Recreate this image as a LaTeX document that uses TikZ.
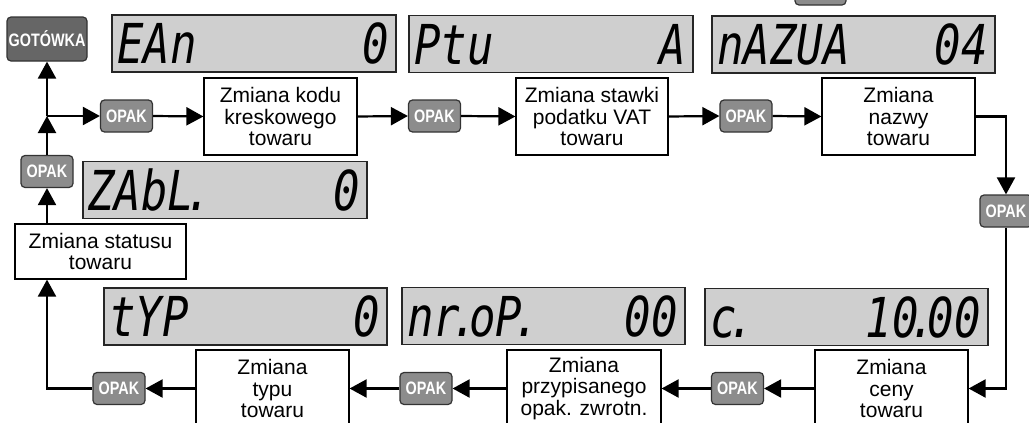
\documentclass[tikz,border=0pt]{standalone}
\usepackage{fontspec}
\setmainfont{Liberation Sans}
\newfontfamily\keyfont{Liberation Sans}[FakeStretch=0.8]
\newfontfamily\lcdfont{DejaVu Sans Mono}[FakeStretch=0.8]
\usetikzlibrary{arrows.meta}
\definecolor{keygray}{HTML}{8C8C8C}
\definecolor{cashgray}{HTML}{666666}
\definecolor{lcdgray}{HTML}{CFCFCF}
\newcommand\ldot{\makebox[9pt][c]{.}}
\newcommand\lone{\makebox[14pt][r]{1}}
\begin{document}
\begin{tikzpicture}[x=1pt,y=-1pt,
  key/.style={rounded corners=4pt, draw=black!80, line width=1.2pt, fill=keygray,
    text=white, font=\keyfont\bfseries\fontsize{18}{18}\selectfont,
    minimum width=52pt, minimum height=32pt, inner sep=0pt},
  cash/.style={key, fill=cashgray, minimum width=80pt, minimum height=44pt},
  stepbox/.style={draw, line width=1.2pt, fill=white, align=center,
    font=\fontsize{21}{21.5}\selectfont, inner sep=0pt, minimum height=77pt, minimum width=153pt},
  lcd/.style={draw=black!85, line width=1.5pt, fill=lcdgray, inner sep=0pt,
    minimum width=284pt, minimum height=57pt},
  lcdtxt/.style={font=\lcdfont\itshape\fontsize{55}{55}\selectfont, inner sep=0pt},
  flow/.style={line width=2.2pt, -{Triangle[length=17pt,width=18pt]}}
]
\useasboundingbox (0,0) rectangle (1029,423);

% top fragment key
\node[key, minimum width=51pt] (topkey) at (820.5,-11) {};

% LCD displays
\node[lcd] (l1) at (254,43.5) {};
\node[lcd] (l2) at (551,44) {};
\node[lcd, minimum width=283pt] (l3) at (853.5,44.5) {};
\node[lcd] (l4) at (225,190) {};
\node[lcd, minimum width=283pt] (l5) at (245.5,316.5) {};
\node[lcd, minimum width=283pt] (l6) at (543.5,316) {};
\node[lcd, minimum width=283pt] (l7) at (846.5,317) {};

\node[lcdtxt, anchor=base west] (t1a) at ([shift={(6,-9)}]l1.south west) {EAn};
\node[lcdtxt, anchor=base east] (t1b) at ([shift={(-8,-9)}]l1.south east) {0};
\node[lcdtxt, anchor=base west] (t2a) at ([shift={(6,-9)}]l2.south west) {Ptu};
\node[lcdtxt, anchor=base east] (t2b) at ([shift={(-8,-9)}]l2.south east) {A};
\node[lcdtxt, anchor=base west] (t3a) at ([shift={(6,-9)}]l3.south west) {nAZUA};
\node[lcdtxt, anchor=base east] (t3b) at ([shift={(-8,-9)}]l3.south east) {04};
\node[lcdtxt, anchor=base west] (t4a) at ([shift={(6,-9)}]l4.south west) {ZAbL\ldot};
\node[lcdtxt, anchor=base east] (t4b) at ([shift={(-8,-9)}]l4.south east) {0};
\node[lcdtxt, anchor=base west] (t5a) at ([shift={(6,-9)}]l5.south west) {tYP};
\node[lcdtxt, anchor=base east] (t5b) at ([shift={(-8,-9)}]l5.south east) {0};
\node[lcdtxt, anchor=base west] (t6a) at ([shift={(6,-9)}]l6.south west) {nr\ldot oP\ldot};
\node[lcdtxt, anchor=base east] (t6b) at ([shift={(-8,-9)}]l6.south east) {00};
\node[lcdtxt, anchor=base west] (t7a) at ([shift={(6,-9)}]l7.south west) {c\ldot};
\node[lcdtxt, anchor=base east] (t7b) at ([shift={(-8,-9)}]l7.south east) {\lone 0\ldot 00};

% keys
\node[cash] (got) at (47,39) {GOTÓWKA};
\node[key] (oL) at (47,171.5) {OPAK};
\node[key] (o1) at (126.5,116) {OPAK};
\node[key] (o2) at (434.5,116) {OPAK};
\node[key] (o3) at (746,116) {OPAK};
\node[key] (oR) at (1006,211) {OPAK};
\node[key] (o4) at (737.5,388.5) {OPAK};
\node[key] (o5) at (426,388.5) {OPAK};
\node[key] (o6) at (119,388.5) {OPAK};

% step boxes
\node[stepbox] (b1) at (280.5,116.5) {Zmiana kodu\\kreskowego\\towaru};
\node[stepbox, minimum width=152pt] (b2) at (592,116.5) {Zmiana stawki\\podatku VAT\\towaru};
\node[stepbox] (b3) at (898.5,116.5) {Zmiana\\nazwy\\towaru};
\node[stepbox] (b4) at (891.5,388.5) {Zmiana\\ceny\\towaru};
\node[stepbox, minimum width=154pt] (b5) at (584,388.5) {Zmiana\\przypisanego\\opak. zwrotn.};
\node[stepbox] (b6) at (272.5,388.5) {Zmiana\\typu\\towaru};
\node[stepbox, minimum width=171pt, minimum height=55pt] (st) at (100.5,251.5) {Zmiana statusu\\towaru};

% connectors
\coordinate (J) at (47,116);
\draw[flow] (J) -- (got.south);
\draw[flow] (J) -- (o1.west);
\draw[flow] (oL.north) -- (J);
\draw[flow] (st.north -| oL) -- (oL.south);
\draw[flow] (o1.east) -- (b1.west);
\draw[flow] (b1.east) -- (o2.west);
\draw[flow] (o2.east) -- (b2.west);
\draw[flow] (b2.east) -- (o3.west);
\draw[flow] (o3.east) -- (b3.west);
\draw[flow] (b3.east) -| (oR.north);
\draw[flow] (oR.south) |- (b4.east);
\draw[flow] (b4.west) -- (o4.east);
\draw[flow] (o4.west) -- (b5.east);
\draw[flow] (b5.west) -- (o5.east);
\draw[flow] (o5.west) -- (b6.east);
\draw[flow] (b6.west) -- (o6.east);
\draw[flow] (o6.west) -| (st.south -| oL);
\end{tikzpicture}
\end{document}
